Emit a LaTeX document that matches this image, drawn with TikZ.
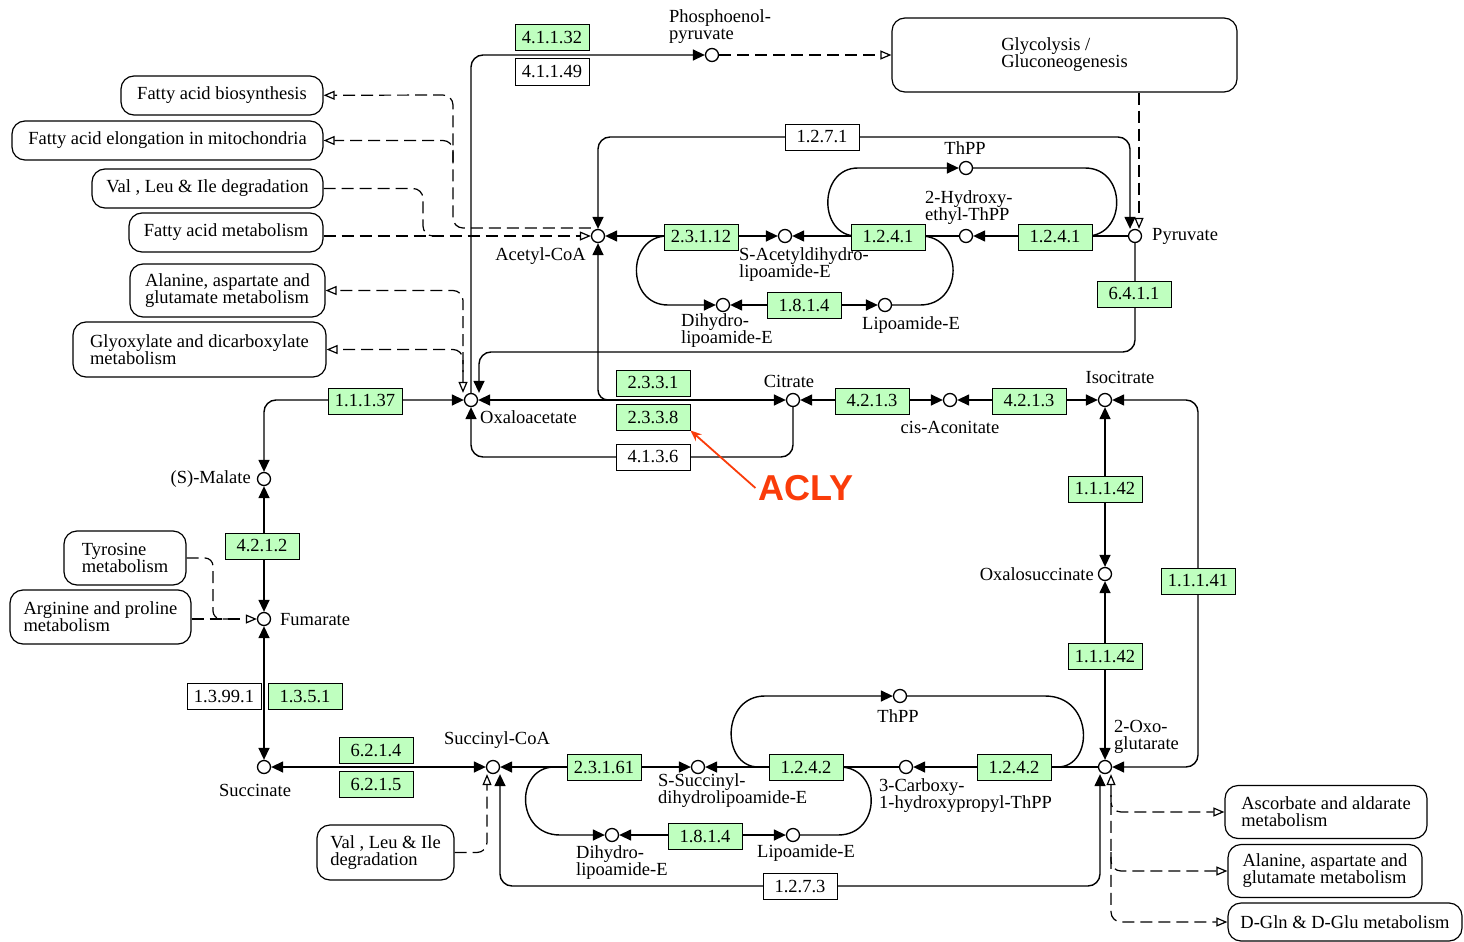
\documentclass[tikz,border=0pt]{standalone}
\usepackage{fontspec}
\setmainfont{Liberation Serif}
\setsansfont{Liberation Sans}
\usetikzlibrary{arrows.meta,calc}
\pgfdeclarelayer{bg}
\pgfsetlayers{bg,main}
\definecolor{kgreen}{RGB}{191,255,191}
\definecolor{aclyred}{RGB}{250,60,10}
\newcommand\kgfont{\fontsize{18.5}{17}\selectfont}
\tikzset{
  cpd/.style={circle,draw,fill=white,line width=1.3pt,minimum size=13pt,inner sep=0pt},
  enz/.style={draw,fill=kgreen,line width=1pt,minimum width=74pt,minimum height=26pt,inner sep=0pt,font=\kgfont},
  enzw/.style={enz,fill=white},
  mapbox/.style={draw,fill=white,rounded corners=13pt,line width=1.2pt,inner sep=0pt,align=left,font=\kgfont},
  lbl/.style={inner sep=0pt,align=left,font=\kgfont},
  rx/.style={line width=1.4pt},
  rel/.style={line width=1.2pt,dash pattern=on 12pt off 6pt},
  Tf/.tip={Triangle[length=12pt,width=11pt]},
  To/.tip={Triangle[open,length=11pt,width=9pt]},
}
\begin{document}
\begin{tikzpicture}[x=1pt,y=-1pt]
\useasboundingbox (0,0) rectangle (1464,942);
\begin{pgfonlayer}{bg}
\fill[white] (0,0) rectangle (1464,942);
\end{pgfonlayer}

% ---------- compounds ----------
\node[cpd] (pep) at (712,55) {};
\node[cpd] (acoa) at (598,236) {};
\node[cpd] (sacl) at (785,236) {};
\node[cpd] (hetpp) at (966,236) {};
\node[cpd] (thpp1) at (966,168) {};
\node[cpd] (pyr) at (1135,236) {};
\node[cpd] (dhl1) at (723,305) {};
\node[cpd] (lip1) at (885,305) {};
\node[cpd] (oxa) at (471,400) {};
\node[cpd] (cit) at (793,400) {};
\node[cpd] (cis) at (950,400) {};
\node[cpd] (icit) at (1105,400) {};
\node[cpd] (oxs) at (1105,574) {};
\node[cpd] (akg) at (1105,767) {};
\node[cpd] (thpp2) at (900,696) {};
\node[cpd] (chp) at (906,767) {};
\node[cpd] (ssdl) at (698,767) {};
\node[cpd] (lip2) at (793,835) {};
\node[cpd] (dhl2) at (612,835) {};
\node[cpd] (scoa) at (493,767) {};
\node[cpd] (suc) at (264,767) {};
\node[cpd] (fum) at (264,619) {};
\node[cpd] (mal) at (264,479) {};

% ---------- compound labels ----------
\node[lbl,anchor=west] (lpep) at (669,27) {Phosphoenol-\\pyruvate};
\node[lbl,anchor=east] (lacoa) at (586,256) {Acetyl-CoA};
\node[lbl,anchor=west] (lsacl) at (739,265) {S-Acetyldihydro-\\lipoamide-E};
\node[lbl,anchor=west] (lhet) at (925,208) {2-Hydroxy-\\ethyl-ThPP};
\node[lbl] (lthpp1) at (965,148) {ThPP};
\node[lbl,anchor=west] (lpyr) at (1152,236) {Pyruvate};
\node[lbl,anchor=west] (ldhl1) at (681,331) {Dihydro-\\lipoamide-E};
\node[lbl,anchor=west] (llip1) at (862,325) {Lipoamide-E};
\node[lbl,anchor=west] (loxa) at (480,417) {Oxaloacetate};
\node[lbl] (lcit) at (789,381) {Citrate};
\node[lbl] (lcis) at (950,427) {cis-Aconitate};
\node[lbl] (licit) at (1120,377) {Isocitrate};
\node[lbl,anchor=east] (loxs) at (1094,574) {Oxalosuccinate};
\node[lbl,anchor=west] (lakg) at (1114,737) {2-Oxo-\\glutarate};
\node[lbl] (lthpp2) at (898,716) {ThPP};
\node[lbl,anchor=west] (lchp) at (879,796) {3-Carboxy-\\1-hydroxypropyl-ThPP};
\node[lbl,anchor=west] (lssdl) at (658,791) {S-Succinyl-\\dihydrolipoamide-E};
\node[lbl,anchor=west] (llip2) at (757,853) {Lipoamide-E};
\node[lbl,anchor=west] (ldhl2) at (576,863) {Dihydro-\\lipoamide-E};
\node[lbl] (lscoa) at (497,740) {Succinyl-CoA};
\node[lbl] (lsuc) at (255,790) {Succinate};
\node[lbl,anchor=west] (lfum) at (280,620) {Fumarate};
\node[lbl,anchor=east] (lmal) at (251,479) {(S)-Malate};

% ---------- enzymes ----------
\node[enz] (e41132) at (552,38) {4.1.1.32};
\node[enzw] (e41149) at (552,72) {4.1.1.49};
\node[enzw] (e1271) at (822,137) {1.2.7.1};
\node[enz] (e23112) at (701,237) {2.3.1.12};
\node[enz] (e1241a) at (888,237) {1.2.4.1};
\node[enz] (e1241b) at (1055,237) {1.2.4.1};
\node[enz] (e1814a) at (804,305) {1.8.1.4};
\node[enz] (e6411) at (1134,294) {6.4.1.1};
\node[enz] (e2331) at (653,383) {2.3.3.1};
\node[enz] (e2338) at (653,417) {2.3.3.8};
\node[enzw] (e4136) at (653,457) {4.1.3.6};
\node[enz] (e4213a) at (872,401) {4.2.1.3};
\node[enz] (e4213b) at (1029,401) {4.2.1.3};
\node[enz] (e11137) at (365,401) {1.1.1.37};
\node[enz] (e11142a) at (1105,489) {1.1.1.42};
\node[enz] (e11141) at (1198,581) {1.1.1.41};
\node[enz] (e11142b) at (1105,656) {1.1.1.42};
\node[enz] (e4212) at (262,546) {4.2.1.2};
\node[enzw] (e13991) at (224,696) {1.3.99.1};
\node[enz] (e1351) at (305,696) {1.3.5.1};
\node[enz] (e6214) at (376,750) {6.2.1.4};
\node[enz] (e6215) at (376,784) {6.2.1.5};
\node[enz] (e23161) at (604,767) {2.3.1.61};
\node[enz] (e1242a) at (806,767) {1.2.4.2};
\node[enz] (e1242b) at (1014,767) {1.2.4.2};
\node[enz] (e1814b) at (705,836) {1.8.1.4};
\node[enzw] (e1273) at (800,886) {1.2.7.3};

% ---------- map boxes ----------
\node[mapbox,minimum width=345pt,minimum height=74pt] (glyc) at (1064.5,55) {Glycolysis /\\Gluconeogenesis};
\node[mapbox,minimum width=202pt,minimum height=39pt] (fab) at (222,95.5) {Fatty acid biosynthesis};
\node[mapbox,minimum width=311pt,minimum height=39pt] (fae) at (167.5,140.5) {Fatty acid elongation in mitochondria};
\node[mapbox,minimum width=231pt,minimum height=39pt] (vli) at (207.5,188.5) {Val , Leu \& Ile degradation};
\node[mapbox,minimum width=194pt,minimum height=39pt] (fam) at (226,232.5) {Fatty acid metabolism};
\node[mapbox,minimum width=195pt,minimum height=53pt] (ala1) at (227.5,290.5) {Alanine, aspartate and\\glutamate metabolism};
\node[mapbox,minimum width=253pt,minimum height=55pt] (gly) at (199.5,349.5) {Glyoxylate and dicarboxylate\\metabolism};
\node[mapbox,minimum width=122pt,minimum height=54pt] (tyr) at (125,558) {Tyrosine\\metabolism};
\node[mapbox,minimum width=181pt,minimum height=54pt] (arg) at (100.5,617) {Arginine and proline\\metabolism};
\node[mapbox,minimum width=137pt,minimum height=55pt] (vli2) at (385.5,852.5) {Val , Leu \& Ile\\degradation};
\node[mapbox,minimum width=202pt,minimum height=53pt] (asc) at (1326,812) {Ascorbate and aldarate\\metabolism};
\node[mapbox,minimum width=194pt,minimum height=53pt] (ala2) at (1325,871) {Alanine, aspartate and\\glutamate metabolism};
\node[mapbox,minimum width=234pt,minimum height=38pt] (dgln) at (1345,922) {D-Gln \& D-Glu metabolism};

% junction coordinates
\coordinate (jfa) at (453,95);
\coordinate (jfe) at (453,162);
\coordinate (jvl) at (423,236);
\coordinate (jvl2) at (445,236);
\coordinate (jgl) at (463,372);
\coordinate (jty) at (213,619);
\coordinate (jty2) at (228,619);
\coordinate (jas) at (1111,795);
\coordinate (jal) at (1111,852);

% ---------- reactions ----------
\begin{pgfonlayer}{bg}
% top part
\draw[rx,-{Tf},rounded corners=12pt] (oxa) |- (pep);
\draw[rel,-{To}] (pep) -- (glyc);
\draw[rel,-{To}] (glyc.south -| pyr) ++(4,0) -- ([xshift=4pt]pyr.north);
\draw[rx,{Tf}-{Tf},rounded corners=12pt] (acoa) |- (e1271.center) -| ([xshift=-5pt]pyr.north);
\draw[rx,{Tf}-{Tf}] (acoa) -- (sacl);
\draw[rx,-{Tf}] (hetpp) -- (sacl);
\draw[rx,-{Tf}] (pyr) -- (hetpp);
\draw[rx,-{Tf}] ([xshift=6pt]e1241a.west |- hetpp) .. controls (818,236) and (818,168) .. (858,168) -- (thpp1);
\draw[rx] (thpp1) -- (1085,168) .. controls (1127,168) and (1127,236) .. ([xshift=-6pt]e1241b.east |- pyr);
\draw[rx] ([xshift=-5pt]e1241a.east |- hetpp) .. controls (964,236) and (964,305) .. (920,305) -- (lip1);
\draw[rx,-{Tf}] ([xshift=4pt]e23112.west |- acoa) .. controls (626,236) and (626,305) .. (668,305) -- (dhl1);
\draw[rx,{Tf}-{Tf}] (dhl1) -- (lip1);
% middle
\draw[rx,{Tf}-{Tf}] (oxa) -- (cit);
\draw[rx,-{Tf},rounded corners=10pt] (cit -| e2331.west) -| (acoa);
\draw[rx,-{Tf},rounded corners=12pt] (cit) |- (e4136.center) -| (oxa);
\draw[rx,{Tf}-{Tf}] (cit) -- (cis);
\draw[rx,{Tf}-{Tf}] (cis) -- (icit);
\draw[rx,{Tf}-{Tf}] (icit) -- (oxs);
\draw[rx,{Tf}-{Tf}] (oxs) -- (akg);
\draw[rx,{Tf}-{Tf},rounded corners=12pt] (icit) -| (e11141.center) |- (akg);
\draw[rx,-{Tf},rounded corners=12pt] (pyr) |- ([xshift=8pt,yshift=48pt]oxa.center) -- ([xshift=8pt]oxa.north);
% bottom
\draw[rx,-{Tf}] (akg) -- (chp);
\draw[rx,-{Tf}] (chp) -- (ssdl);
\draw[rx,{Tf}-{Tf}] (scoa) -- (ssdl);
\draw[rx,-{Tf}] ([xshift=-10pt]e1242a.west |- chp) .. controls (721,767) and (721,696) .. (765,696) -- (thpp2);
\draw[rx] (thpp2) -- (1045,696) .. controls (1094,696) and (1094,767) .. ([xshift=6pt]e1242b.east |- akg);
\draw[rx] ([xshift=-4pt]e1242a.east |- chp) .. controls (882,767) and (882,835) .. (838,835) -- (lip2);
\draw[rx,-{Tf}] ([xshift=-12pt]e23161.west |- scoa) .. controls (515,767) and (515,835) .. (560,835) -- (dhl2);
\draw[rx,{Tf}-{Tf}] (dhl2) -- (lip2);
\draw[rx,{Tf}-{Tf},rounded corners=12pt] ([xshift=7pt]scoa.south) |- (e1273.center) -| ([xshift=-5pt]akg.south);
\draw[rx,{Tf}-{Tf}] (suc) -- (scoa);
\draw[rx,{Tf}-{Tf}] (fum) -- (suc);
\draw[rx,{Tf}-{Tf}] (mal) -- (fum);
\draw[rx,{Tf}-{Tf},rounded corners=12pt] (mal) |- (oxa);
% dashed map links
\draw[rel,-{To},rounded corners=10pt] ([yshift=8pt]acoa.west) -| (jfa) -- (fab);
\draw[rel,-{To},rounded corners=10pt] (jfe) |- (fae);
\draw[rel,-{To}] (fam.east |- acoa) -- (acoa);
\draw[rel,rounded corners=10pt] (vli.east) -| (jvl) -- (jvl2);
\draw[rel,{To}-{To},rounded corners=10pt] ([xshift=-8pt]oxa.north) |- (ala1);
\draw[rel,-{To},rounded corners=10pt] (jgl) |- (gly);
\draw[rel,-{To}] (arg.east |- fum) -- (fum);
\draw[rel,rounded corners=8pt] (tyr.east) -| (jty) -- (jty2);
\draw[rel,-{To},rounded corners=10pt] (vli2.east) -| ([xshift=-6pt]scoa.south);
\draw[rel,{To}-{To},rounded corners=10pt] ([xshift=6pt]akg.south) |- (dgln);
\draw[rel,-{To},rounded corners=10pt] (jas) |- (asc);
\draw[rel,-{To},rounded corners=10pt] (jal) |- (ala2);
\end{pgfonlayer}

% ---------- ACLY annotation ----------
\node[font=\sffamily\bfseries\fontsize{36}{36}\selectfont,text=aclyred,inner sep=3pt] (acly) at (806,488) {ACLY};
\draw[aclyred,line width=1.8pt,-{Stealth[length=11pt,width=9pt]}] (acly.west) -- (e2338.south east);
\end{tikzpicture}
\end{document}
